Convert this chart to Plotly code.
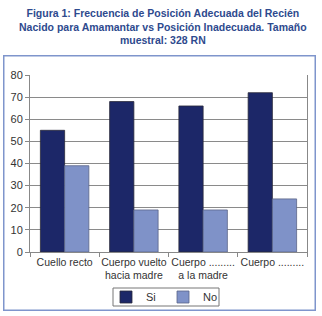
import plotly.graph_objects as go

categories = ["Cuello recto", "Cuerpo vuelto<br>hacia madre", "Cuerpo .........<br>a la madre", "Cuerpo ........."]
si_values = [55, 68, 66, 72]
no_values = [39, 19, 19, 24]
y_ticks = [0, 10, 20, 30, 40, 50, 60, 70, 80]
title_text = ("Figura 1: Frecuencia de Posición Adecuada del Recién<br>"
              "Nacido para Amamantar vs Posición Inadecuada. Tamaño<br>"
              "muestral: 328 RN")

W, H = 322.0, 316.0

fig = go.Figure()
fig.add_trace(go.Bar(name="Si", x=categories, y=si_values,
                     marker=dict(color="#1c2768", line=dict(color="#2a2a3a", width=0.8))))
fig.add_trace(go.Bar(name="No", x=categories, y=no_values,
                     marker=dict(color="#7f92c8", line=dict(color="#5a6488", width=0.8))))
# invisible helper for between-category ticks
fig.add_trace(go.Scatter(x=[-0.5, 3.5], y=[0, 0], xaxis="x2", mode="lines",
                         line=dict(width=0), showlegend=False, hoverinfo="skip"))


def px(x):
    return x / W


def py(y):
    return 1 - y / H


FRAME = "#7f95cc"
frame_shapes = [
    # top, bottom, left, right edges of the outer frame as thin filled bars
    dict(type="rect", xref="paper", yref="paper", layer="above", line=dict(width=0),
         fillcolor=FRAME, x0=px(3), x1=px(316), y0=py(56.5), y1=py(55)),
    dict(type="rect", xref="paper", yref="paper", layer="above", line=dict(width=0),
         fillcolor=FRAME, x0=px(3), x1=px(316), y0=py(311), y1=py(309.5)),
    dict(type="rect", xref="paper", yref="paper", layer="above", line=dict(width=0),
         fillcolor=FRAME, x0=px(3), x1=px(4.5), y0=py(311), y1=py(55)),
    dict(type="rect", xref="paper", yref="paper", layer="above", line=dict(width=0),
         fillcolor=FRAME, x0=px(314.5), x1=px(316), y0=py(311), y1=py(55)),
]

font_fam = "Liberation Sans, Arial, sans-serif"
fig.update_layout(
    width=322, height=316,
    margin=dict(l=0, r=0, t=0, b=0, pad=0, autoexpand=False),
    paper_bgcolor="white", plot_bgcolor="white",
    barmode="group", bargap=0.3, bargroupgap=0,
    font=dict(family=font_fam, size=11, color="#333333"),
    showlegend=True,
    legend=dict(orientation="h", x=px(163), xanchor="center",
                y=py(297), yanchor="middle",
                borderwidth=0, bgcolor="rgba(0,0,0,0)",
                font=dict(family=font_fam, size=11, color="#333333"),
                itemwidth=30, entrywidthmode="pixels", entrywidth=12),
    xaxis=dict(type="category", domain=[px(30), px(307)], showgrid=False, ticks="",
               showline=True, linecolor="#888888", linewidth=1, mirror=False, tickangle=0,
               automargin=False,
               tickfont=dict(family=font_fam, size=10.5, color="#333333")),
    xaxis2=dict(overlaying="x", range=[-0.5, 3.5], tickvals=[-0.5, 0.5, 1.5, 2.5, 3.5],
                showticklabels=False, ticks="outside", ticklen=4, tickcolor="#888888",
                showgrid=False, showline=False, zeroline=False, side="bottom",
                anchor="y", automargin=False),
    yaxis=dict(range=[0, 80], domain=[py(252), py(75)], tickvals=y_ticks, showgrid=True,
               gridcolor="#8a8a8a", gridwidth=1, ticks="outside", ticklen=4,
               tickcolor="#888888", showline=True, linecolor="#888888", linewidth=1,
               mirror=True, zeroline=False, automargin=False,
               tickfont=dict(family=font_fam, size=11, color="#333333")),
    annotations=[dict(text=title_text, xref="paper", yref="paper", x=px(163),
                      xanchor="center", y=py(5), yanchor="top", showarrow=False,
                      align="center",
                      font=dict(family=font_fam, size=10.5, color="#2e4a8e", weight="bold"))],
    shapes=[
        dict(type="rect", xref="paper", yref="paper", layer="above",
             x0=px(113), x1=px(219), y0=py(306), y1=py(288),
             line=dict(color="#777777", width=1)),
    ] + frame_shapes,
)
fig.write_html("out.html", config={"displayModeBar": False},
               post_script="document.body.style.margin='0';")
